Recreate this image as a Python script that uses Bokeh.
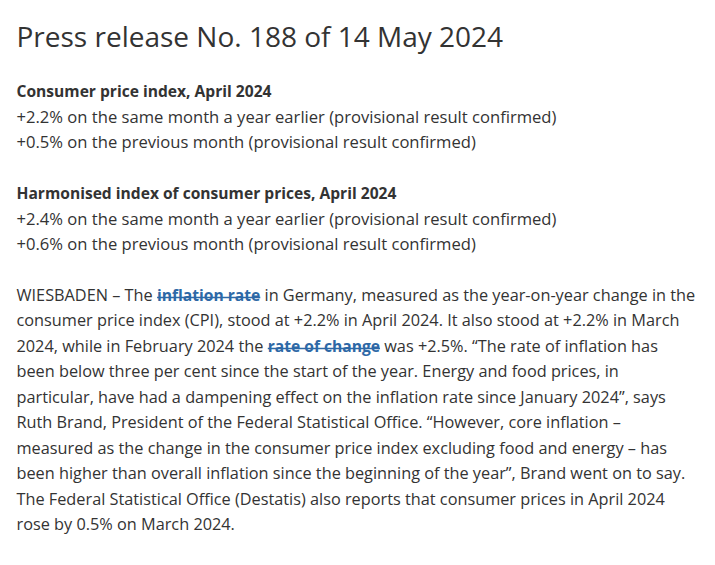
import glob
import subprocess
from bokeh.plotting import figure
from bokeh.models import Range1d
from bokeh.core.properties import value
from bokeh.embed import file_html
from bokeh.resources import INLINE

# ---- content -------------------------------------------------------------
press_no = 188
release_date = "14 May 2024"
ref_month = "April 2024"
cpi_yoy = 2.2
cpi_mom = 0.5
hicp_yoy = 2.4
hicp_mom = 0.6
cpi_march = 2.2
cpi_february = 2.5
prev_month_change = 0.5

title_text = f"Press release No. {press_no} of {release_date}"
block_headings = [f"Consumer price index, {ref_month}",
                  f"Harmonised index of consumer prices, {ref_month}"]
block_values = [[cpi_yoy, cpi_mom], [hicp_yoy, hicp_mom]]
block_suffixes = ["on the same month a year earlier (provisional result confirmed)",
                  "on the previous month (provisional result confirmed)"]

# paragraph lines as runs: (text, is_link)
paragraph = [
    [("WIESBADEN – The ", False), ("inflation rate", True),
     (" in Germany, measured as the year-on-year change in the", False)],
    [(f"consumer price index (CPI), stood at +{cpi_yoy}% in April 2024. It also stood at +{cpi_march}% in March", False)],
    [("2024, while in February 2024 the ", False), ("rate of change", True),
     (f" was +{cpi_february}%. “The rate of inflation has", False)],
    [("been below three per cent since the start of the year. Energy and food prices, in", False)],
    [("particular, have had a dampening effect on the inflation rate since January 2024”, says", False)],
    [("Ruth Brand, President of the Federal Statistical Office. “However, core inflation –", False)],
    [("measured as the change in the consumer price index excluding food and energy – has", False)],
    [("been higher than overall inflation since the beginning of the year”, Brand went on to say.", False)],
    [("The Federal Statistical Office (Destatis) also reports that consumer prices in April 2024", False)],
    [(f"rose by {prev_month_change}% on March 2024.", False)],
]

# ---- style / layout ------------------------------------------------------
FONT = "Open Sans"
BODY_SIZE = 16.3
BLOCK_SIZE = 16.6
BOLD_SIZE = 15.6
TITLE_SIZE = 28
TEXT_COLOR = "#333333"
LINK_COLOR = "#2d68a6"
W, H = 699, 549
X0 = 16
TITLE_BASE = 35
FIRST_BASE = 90
LINE_H = 25.5

# ---- text measuring (for placing link runs) -----------------------------
_font_cache = {}


def _font_file(bold):
    try:
        pat = FONT + (":bold" if bold else ":regular")
        out = subprocess.run(["fc-match", "-f", "%{file}", pat],
                             capture_output=True, text=True, timeout=5).stdout.strip()
        if out:
            return out
    except Exception:
        pass
    key = "Bold" if bold else "Regular"
    cands = glob.glob(f"/usr/share/fonts/**/OpenSans*{key}*.ttf", recursive=True)
    if not cands:
        cands = glob.glob("/usr/share/fonts/**/OpenSans*.ttf", recursive=True)
    return cands[0] if cands else None


def measure(text, size, bold=False):
    try:
        from PIL import ImageFont
        k = (bold, size)
        if k not in _font_cache:
            f = ImageFont.truetype(_font_file(bold), size)
            if bold:
                try:
                    f.set_variation_by_axes([700 if a.get("name", b"") in (b"Weight", "Weight") else a["default"]
                                             for a in f.get_variation_axes()])
                except Exception:
                    try:
                        f.set_variation_by_name("Bold")
                    except Exception:
                        pass
            _font_cache[k] = f
        return _font_cache[k].getlength(text)
    except Exception:
        return len(text) * size * (0.56 if bold else 0.5)


p = figure(width=W, height=H, output_backend="svg", toolbar_location=None,
           x_range=Range1d(0, W), y_range=Range1d(H, 0),
           x_axis_location=None, y_axis_location=None, min_border=0)
p.grid.visible = False
p.outline_line_color = None
p.background_fill_color = "white"
p.border_fill_color = "white"

font = value(FONT)

# title
p.text(x=[X0], y=[TITLE_BASE], text=[title_text], text_font=font,
       text_font_size=f"{TITLE_SIZE}px", text_color=TEXT_COLOR,
       text_baseline="alphabetic", text_align="left")

# collect runs: x, y, text, kind ('block', 'head', 'body', 'link')
runs = {"block": [], "head": [], "body": [], "link": []}
sizes = {"block": BLOCK_SIZE, "head": BOLD_SIZE, "body": BODY_SIZE, "link": BOLD_SIZE}

line_idx = 0
for heading, vals in zip(block_headings, block_values):
    base = FIRST_BASE + LINE_H * line_idx
    runs["head"].append((X0, base, heading))
    for i, (v, s) in enumerate(zip(vals, block_suffixes)):
        runs["block"].append((X0, base + LINE_H * (i + 1), f"+{v}% {s}"))
    line_idx += 4

for li, line in enumerate(paragraph):
    base = FIRST_BASE + LINE_H * (line_idx + li)
    x = X0
    for txt, link in line:
        kind = "link" if link else "body"
        size = sizes[kind]
        stripped = txt.lstrip(" ")
        lead = len(txt) - len(stripped)
        x += measure(" " * lead, BODY_SIZE, bold=False) if lead else 0
        runs[kind].append((x, base, stripped.rstrip(" ")))
        x += measure(stripped, size, bold=link)

for kind, items in runs.items():
    if not items:
        continue
    bold = kind in ("head", "link")
    p.text(x=[r[0] for r in items], y=[r[1] for r in items],
           text=[r[2] for r in items], text_font=font,
           text_font_size=f"{sizes[kind]}px",
           text_font_style="bold" if bold else "normal",
           text_color=LINK_COLOR if kind == "link" else TEXT_COLOR,
           text_baseline="alphabetic", text_align="left")

# underlines for links
lk = runs["link"]
ux0 = [r[0] for r in lk]
ux1 = [r[0] + measure(r[2], BOLD_SIZE, bold=True) for r in lk]
uy = [r[1] + 3 for r in lk]
p.segment(x0=ux0, y0=uy, x1=ux1, y1=uy, line_color=LINK_COLOR, line_width=1.5)

open("out.html", "w").write(file_html(p, INLINE))
